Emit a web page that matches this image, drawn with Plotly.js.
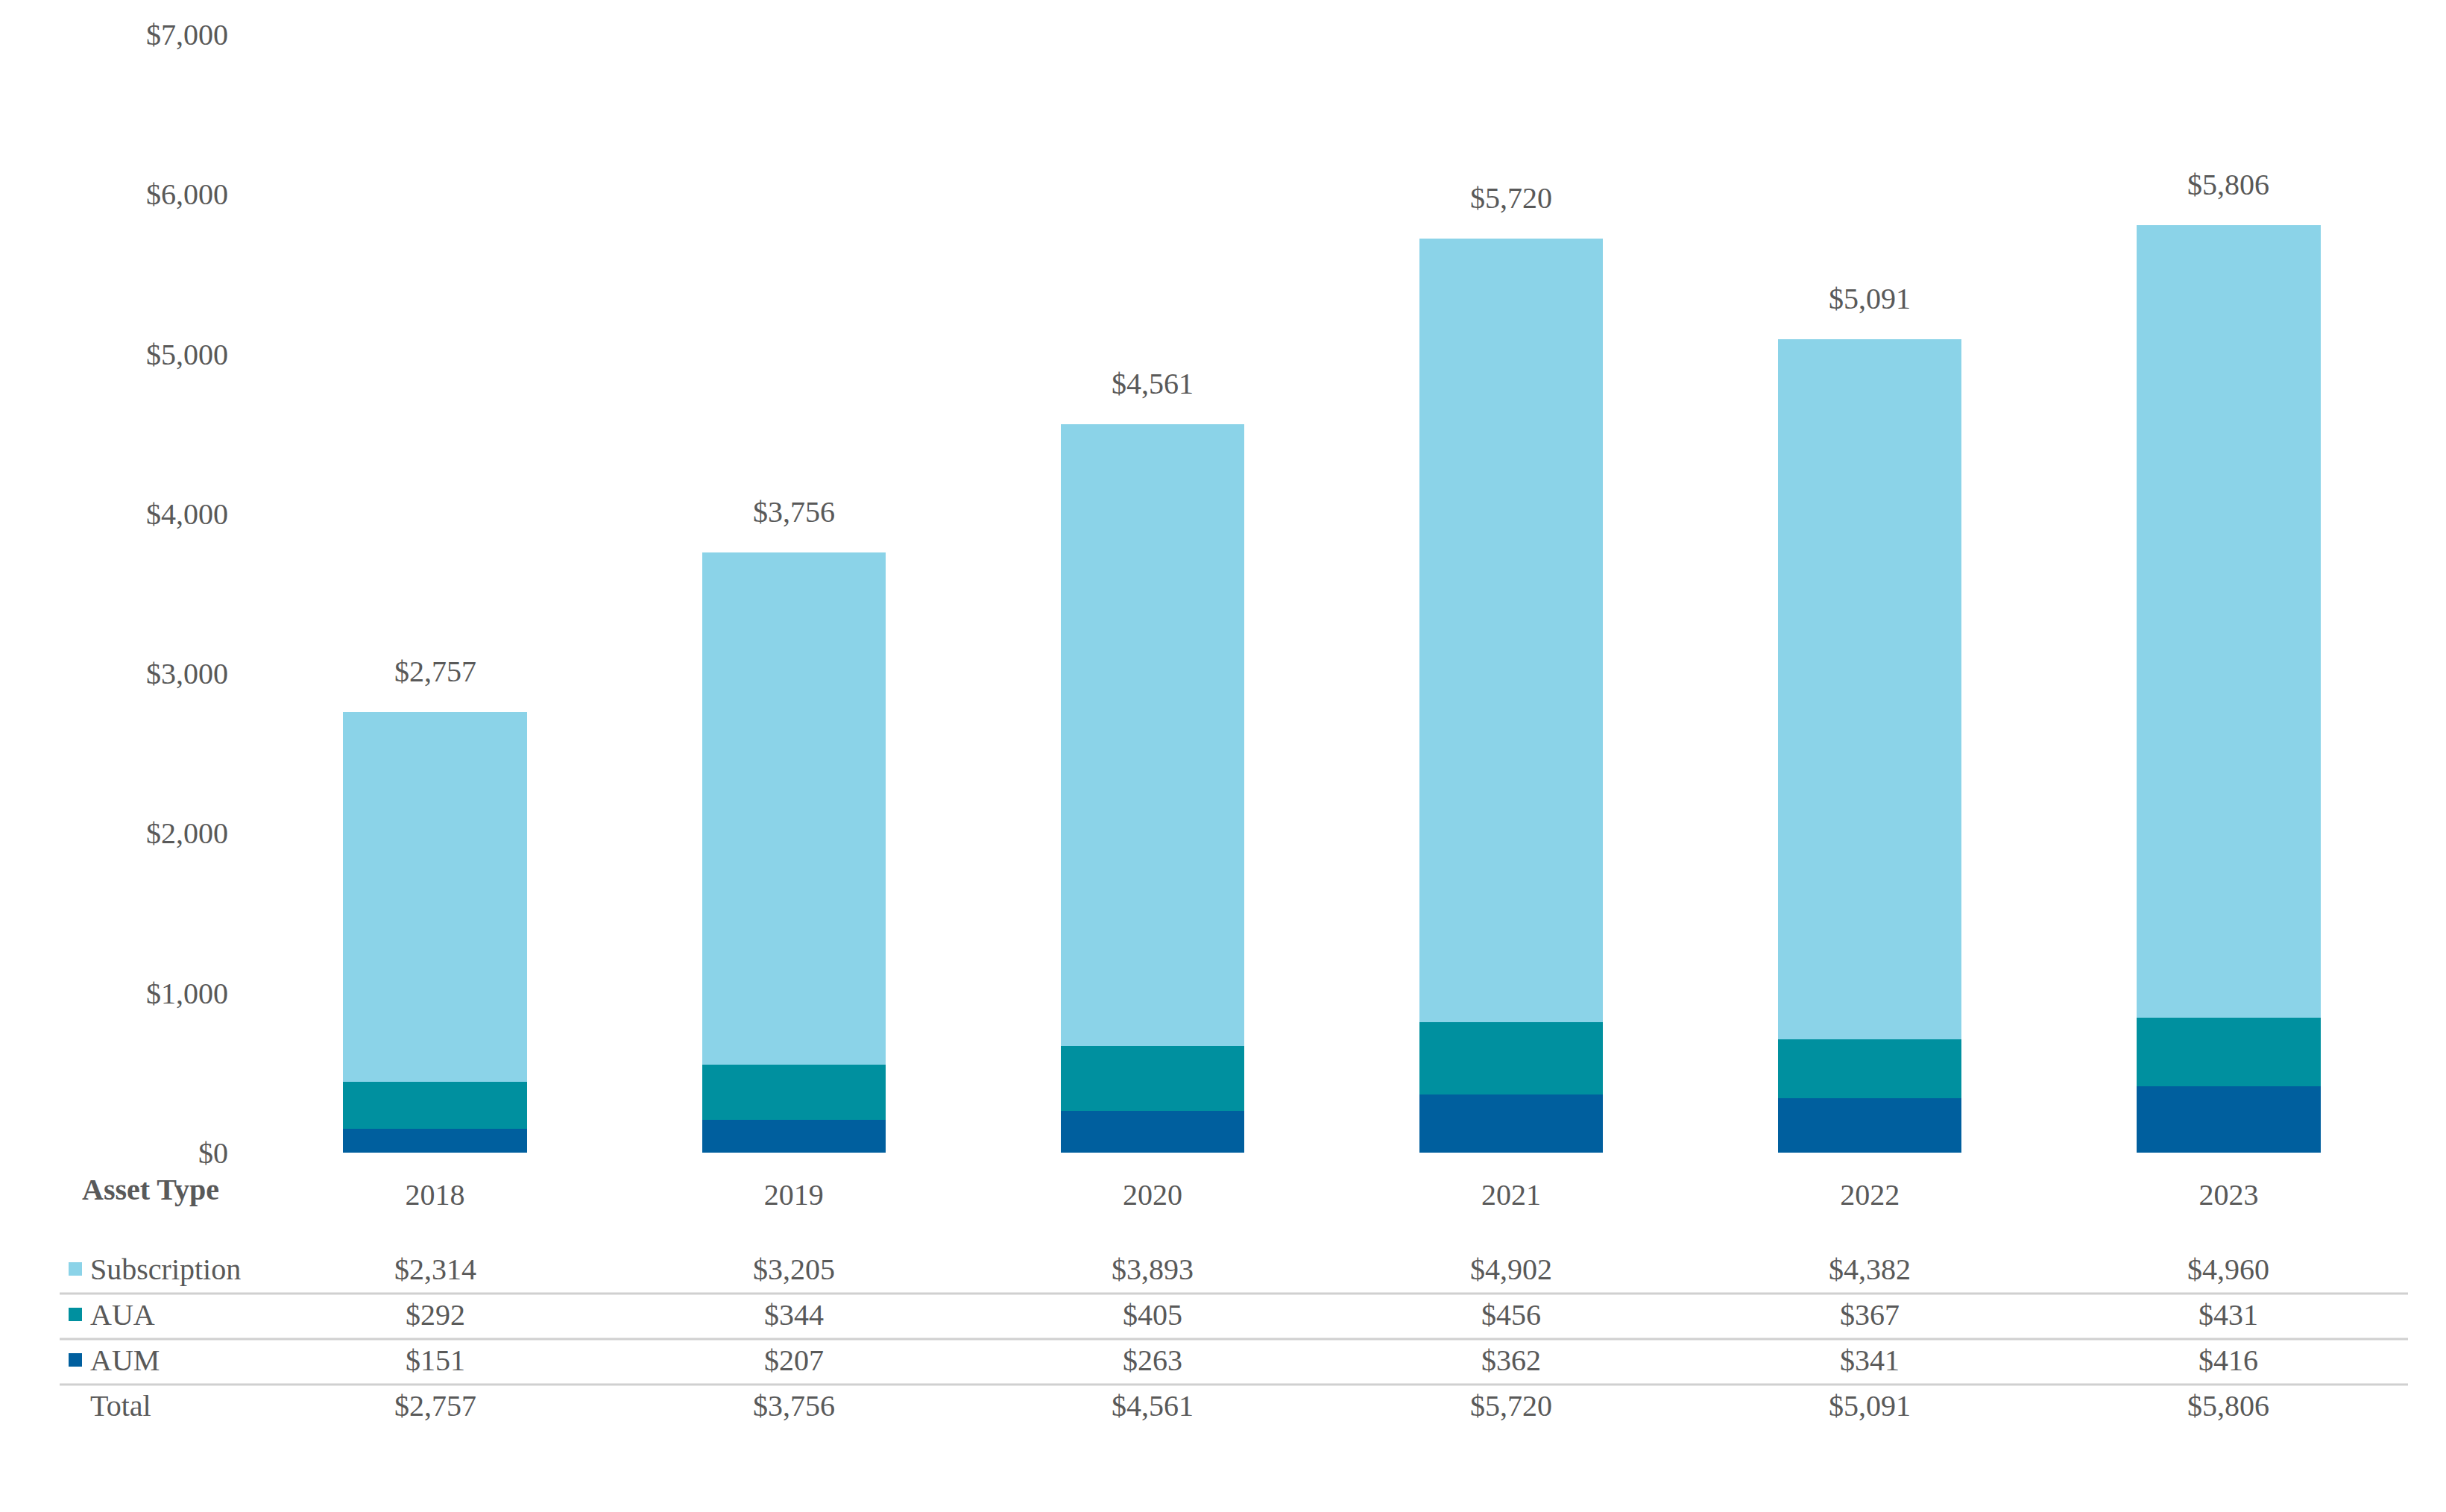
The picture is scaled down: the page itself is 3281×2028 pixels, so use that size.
<!DOCTYPE html>
<html><head><meta charset="utf-8">
<script src="https://cdn.plot.ly/plotly-3.0.1.min.js"></script>
<style>html,body{margin:0;padding:0;background:#fff}</style>
</head><body><div id="chart" style="width:3281px;height:2028px"></div>
<script>
const years = ['2018','2019','2020','2021','2022','2023'];
const subscription = [2314, 3205, 3893, 4902, 4382, 4960];
const aua = [292, 344, 405, 456, 367, 431];
const aum = [151, 207, 263, 362, 341, 416];
const totals = [2757, 3756, 4561, 5720, 5091, 5806];
const seriesNames = ['Subscription', 'AUA', 'AUM'];
const seriesColors = ['#8BD3E8', '#00909F', '#005F9E'];

const FONT = 'Liberation Serif, Times New Roman, serif';
const TXT = '#595959';
const FS = 40;
const fmt = v => '$' + v.toLocaleString('en-US');

const traces = [
  {type:'bar', name:'AUM', x:years, y:aum, marker:{color:seriesColors[2]}},
  {type:'bar', name:'AUA', x:years, y:aua, marker:{color:seriesColors[1]}},
  {type:'bar', name:'Subscription', x:years, y:subscription, marker:{color:seriesColors[0]}}
];

const W = 3281, H = 2028;
const L = 343, R = 51, T = 46, B = 482;
const pw = W - L - R, ph = H - T - B;
const px = x => (x - L) / pw;
const py = y => (H - B - y) / ph;

const annotations = [];
const shapes = [];
// totals above bars
years.forEach((yr, i) => {
  annotations.push({x: i, y: totals[i], xref:'x', yref:'y', text: fmt(totals[i]), showarrow:false,
    yanchor:'bottom', yshift: 30, font:{family:FONT, size:FS, color:TXT}});
});
// header
annotations.push({x: px(202), y: py(1595), xref:'paper', yref:'paper', text:'<b>Asset Type</b>', showarrow:false,
  xanchor:'center', yanchor:'middle', font:{family:FONT, size:FS, color:TXT}});
// table rows
const rows = [subscription, aua, aum, totals];
const rowLabels = ['Subscription', 'AUA', 'AUM', 'Total'];
const rowY = [1702, 1763, 1824, 1885];
rows.forEach((vals, r) => {
  annotations.push({x: px(119), y: py(rowY[r]), xref:'paper', yref:'paper', text: rowLabels[r], showarrow:false,
    xanchor:'left', yanchor:'middle', font:{family:FONT, size:FS, color:TXT}});
  vals.forEach((v, i) => {
    annotations.push({x: i, y: py(rowY[r]), xref:'x', yref:'paper', text: fmt(v), showarrow:false,
      xanchor:'center', yanchor:'middle', font:{family:FONT, size:FS, color:TXT}});
  });
  if (r < 3) {
    shapes.push({type:'rect', xref:'paper', yref:'paper', x0: px(92), x1: px(110),
      y0: py(rowY[r] + 9), y1: py(rowY[r] - 9), fillcolor: seriesColors[r], line:{width:0}});
  }
});
[1735, 1796, 1857].forEach(yy => {
  shapes.push({type:'line', xref:'paper', yref:'paper', x0: px(80), x1: 1, y0: py(yy), y1: py(yy),
    line:{color:'#D0D0D0', width:3}});
});

const layout = {
  width: W, height: H,
  margin: {l:L, r:R, t:T, b:B},
  barmode: 'stack', bargap: 0.488,
  showlegend: false,
  paper_bgcolor: '#fff', plot_bgcolor: '#fff',
  font: {family: FONT, size: FS, color: TXT},
  xaxis: {type:'category', showgrid:false, zeroline:false, showline:false,
    ticks:'outside', ticklen:21, tickcolor:'rgba(0,0,0,0)', tickfont:{family:FONT, size:FS, color:TXT}},
  yaxis: {range:[0,7000], dtick:1000, tickprefix:'$', tickformat:',d', showgrid:false, zeroline:false,
    showline:false, ticks:'outside', ticklen:28, tickcolor:'rgba(0,0,0,0)',
    tickfont:{family:FONT, size:FS, color:TXT}},
  annotations, shapes
};
Plotly.newPlot('chart', traces, layout, {displayModeBar:false, staticPlot:true});
</script></body></html>
